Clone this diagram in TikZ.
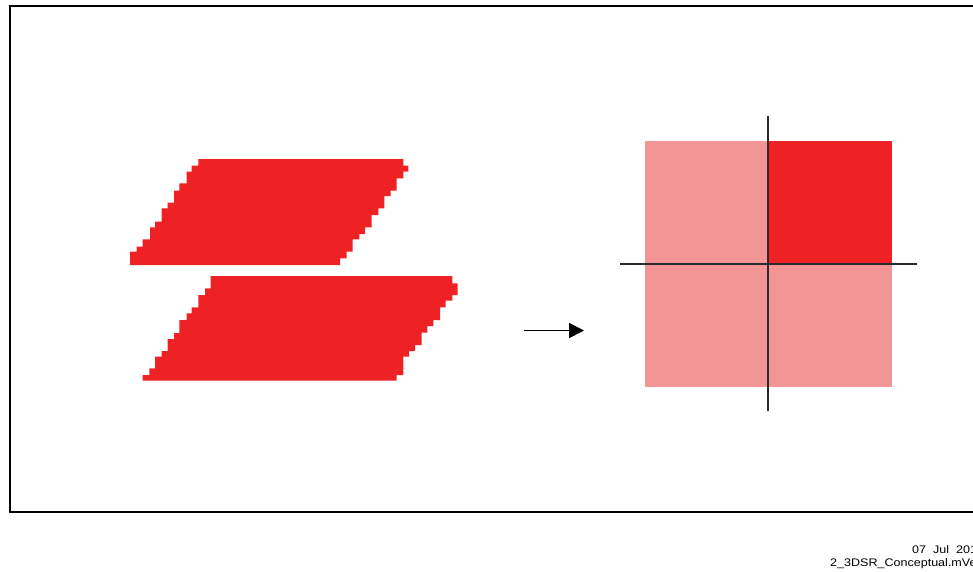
\documentclass[tikz,border=0pt]{standalone}
\usepackage{fontspec}
\usepackage{graphicx}
\newfontfamily\stampfont{Liberation Sans}
\usetikzlibrary{arrows.meta}
\definecolor{slabred}{HTML}{EE2224}
\definecolor{slabpink}{HTML}{F49595}
\definecolor{axisgray}{HTML}{2A2A2A}
\newcommand{\widestamp}[1]{\scalebox{1.14}[1]{#1}}
\tikzset{
  slab/.style={fill=slabred, draw=none},
  axisline/.style={draw=axisgray, line width=1.3pt},
  stamp/.style={font=\stampfont\fontsize{11}{12}\selectfont, inner sep=0pt, anchor=base west},
}
\begin{document}
\begin{tikzpicture}[x=1pt, y=-1pt]
\useasboundingbox (0,0) rectangle (973,571);
\fill[white] (0,0) rectangle (973,571);

% outer frame (right side runs off the page)
\draw[line width=2pt, black] (10,5.5) rectangle (995,512);

% upper slab, stair-stepped edges
\path[slab] (198.3,159) -- (403.3,159) -- (403.3,165.7) -- (408.3,165.7) -- (408.3,171.7) -- (403.3,171.7) -- (403.3,178.3) -- (396.7,178.3) -- (396.7,190.7) -- (390.7,190.7) -- (390.7,196) -- (384.3,196) -- (384.3,208.3) -- (378.3,208.3) -- (378.3,215) -- (371.7,215) -- (371.7,227.3) -- (365,227.3) -- (365,234) -- (359.3,234) -- (359.3,239.3) -- (352.7,239.3) -- (352.7,251.7) -- (346.7,251.7) -- (346.7,258.3) -- (340,258.3) -- (340,265) -- (130,265) -- (130,251.7) -- (136.7,251.7) -- (136.7,246.7) -- (142.7,246.7) -- (142.7,239.3) -- (150,239.3) -- (150,227.3) -- (155,227.3) -- (155,221.7) -- (161.7,221.7) -- (161.7,208.3) -- (167.7,208.3) -- (167.7,202.7) -- (174,202.7) -- (174,190.7) -- (179.3,190.7) -- (179.3,183.3) -- (186.7,183.3) -- (186.7,171.7) -- (191.7,171.7) -- (191.7,165.7) -- (198.3,165.7) -- cycle;

% lower slab, stair-stepped edges
\path[slab] (210.7,276) -- (452.3,276) -- (452.3,283.3) -- (457.7,283.3) -- (457.7,295) -- (452.3,295) -- (452.3,300.7) -- (445.7,300.7) -- (445.7,307.3) -- (440,307.3) -- (440,320) -- (433.3,320) -- (433.3,326) -- (427.3,326) -- (427.3,332.7) -- (421.7,332.7) -- (421.7,345) -- (415,345) -- (415,351) -- (409,351) -- (409,356.7) -- (403.3,356.7) -- (403.3,375) -- (396.7,375) -- (396.7,380.7) -- (142.7,380.7) -- (142.7,375) -- (149.3,375) -- (149.3,368.3) -- (155,368.3) -- (155,356.7) -- (161.7,356.7) -- (161.7,351) -- (167.7,351) -- (167.7,339) -- (174,339) -- (174,333) -- (179.3,333) -- (179.3,320) -- (186.7,320) -- (186.7,313.3) -- (191.7,313.3) -- (191.7,307.3) -- (198.3,307.3) -- (198.3,295) -- (205,295) -- (205,288.3) -- (210.7,288.3) -- cycle;

% arrow between the two panels
\coordinate (arrowtail) at (524,330.5);
\coordinate (arrowtip) at (584,330.5);
\draw[line width=1.6pt, -{Triangle[length=15pt, width=15pt]}] (arrowtail) -- (arrowtip);

% quadrant square
\fill[slabpink] (645,141) rectangle (892,387);
\fill[slabred] (768,141) rectangle (892,264);

% axes through the square
\coordinate (vtop) at (768,116);
\coordinate (vbot) at (768,411);
\coordinate (hleft) at (620,264);
\coordinate (hright) at (917,264);
\draw[axisline] (vtop) -- (vbot);
\draw[axisline] (hleft) -- (hright);

% date and file stamp
\node[stamp] (stampdate) at (912,553) {\widestamp{07\ \ Jul\ \ 201}};
\node[stamp] (stampfile) at (830,566) {\widestamp{2\_3DSR\_Conceptual.mVe}};
\end{tikzpicture}
\end{document}
